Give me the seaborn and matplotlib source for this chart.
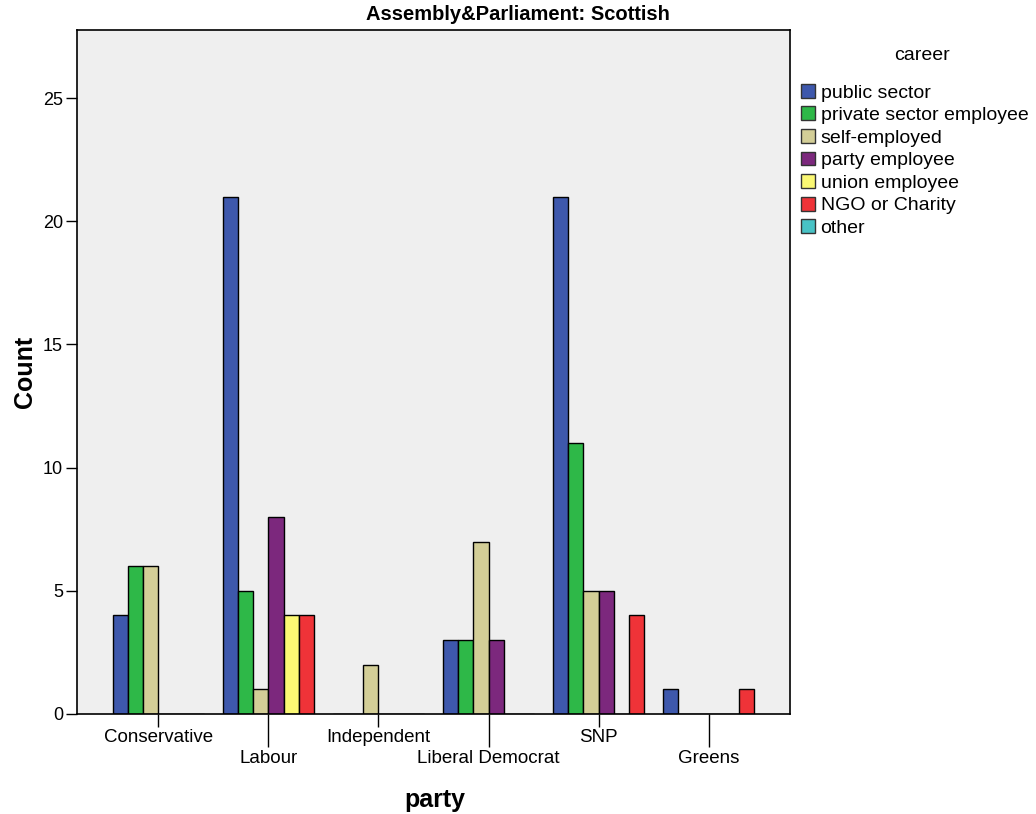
import pandas as pd
import matplotlib.pyplot as plt
import seaborn as sns
from matplotlib.patches import Patch
from matplotlib.transforms import ScaledTranslation

parties = ["Conservative", "Labour", "Independent", "Liberal Democrat", "SNP", "Greens"]
careers = ["public sector", "private sector employee", "self-employed",
           "party employee", "union employee", "NGO or Charity", "other"]
colors = ["#3E58AC", "#2EB848", "#D3CE97", "#7C287D", "#FBF873", "#EF3338", "#48C2C5"]

# counts per party, one list per career
public_sector = [4, 21, 0, 3, 21, 1]
private_sector = [6, 5, 0, 3, 11, 0]
self_employed = [6, 1, 2, 7, 5, 0]
party_employee = [0, 8, 0, 3, 5, 0]
union_employee = [0, 4, 0, 0, 0, 0]
ngo_charity = [0, 4, 0, 0, 4, 1]

series = [public_sector, private_sector, self_employed, party_employee, union_employee, ngo_charity]
rows = []
for career, vals in zip(careers, series):
    for p, v in zip(parties, vals):
        rows.append({"party": p, "career": career, "count": v})
df = pd.DataFrame(rows)

sns.set_style("white")
plt.rcParams["font.family"] = ["Liberation Sans", "DejaVu Sans"]
plt.rcParams["text.color"] = "black"
plt.rcParams["axes.labelcolor"] = "black"
plt.rcParams["xtick.color"] = "black"
plt.rcParams["ytick.color"] = "black"

fig = plt.figure(figsize=(10.36, 8.14), dpi=100)
ax = fig.add_axes([77 / 1036, 1 - 714 / 814, (790 - 77) / 1036, (714 - 30) / 814])
ax.set_facecolor("#EFEFEF")

sns.barplot(data=df, x="party", y="count", hue="career", hue_order=careers[:6],
            palette=colors[:6], saturation=1, width=0.83, edgecolor="black",
            linewidth=1, ax=ax)

ax.set_xlim(-0.74, 5.74)
ax.set_ylim(0, 27.76)
ax.set_yticks([0, 5, 10, 15, 20, 25])
ax.set_xticks(range(len(parties)))
ax.set_xticklabels(parties)

for s in ax.spines.values():
    s.set_color("black")
    s.set_linewidth(1.2)

ax.tick_params(axis="y", length=8, width=1, pad=2, labelsize=13, left=True)
ax.tick_params(axis="x", length=9, width=1, pad=2, labelsize=13.5, bottom=True)

# staggered category labels: every second one sits lower with a longer tick
shift = ScaledTranslation(0, -21 / 100, fig.dpi_scale_trans)
for i, t in enumerate(ax.xaxis.get_major_ticks()):
    if i % 2 == 1:
        t.tick1line.set_markersize(24)
        t.label1.set_transform(t.label1.get_transform() + shift)

ax.set_xlabel("")
ax.set_ylabel("Count", fontsize=18, fontweight="bold", labelpad=4)
fig.text(435 / 1036, 1 - 800 / 814, "party", fontsize=18, fontweight="bold",
         ha="center", va="center")
fig.text(0.5, 1 - 15 / 814, "Assembly&Parliament: Scottish", fontsize=14.5,
         fontweight="bold", ha="center", va="center")

handles = [Patch(facecolor=c, edgecolor="#333333", linewidth=1) for c in colors]
ax.legend(handles, careers, loc="upper left",
          bbox_to_anchor=(793 / 1036, 1 - 76 / 814), bbox_transform=fig.transFigure,
          frameon=False, fontsize=14,
          handlelength=0.72, handleheight=0.72, handletextpad=0.3,
          labelspacing=0.25, borderaxespad=0)
fig.text(922 / 1036, 1 - 55 / 814, "career", fontsize=14, ha="center", va="center")

plt.savefig("out.png", dpi=100)
